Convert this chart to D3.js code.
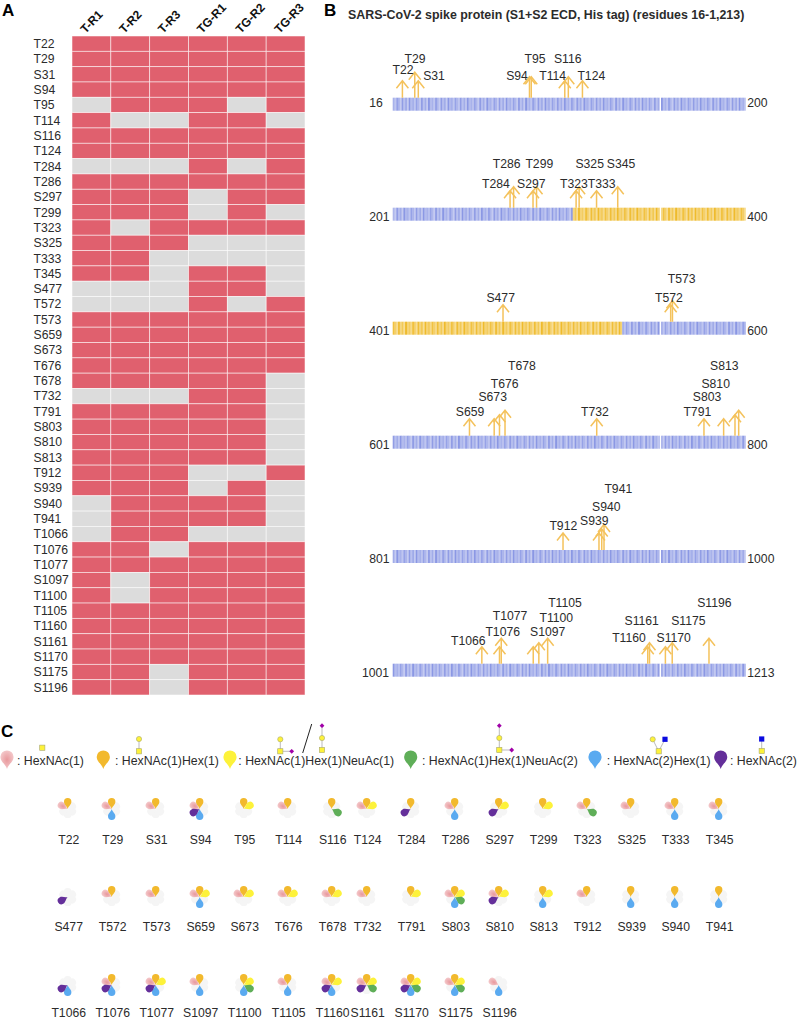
<!DOCTYPE html>
<html>
<head>
<meta charset="utf-8">
<script src="https://cdn.jsdelivr.net/npm/d3@7"></script>
<style>
	html, body { margin: 0; padding: 0; background: #fff; }
	svg { display: block; }
	text { font-family: "Liberation Sans", Arial, sans-serif; fill: #2b2b2b; }
</style>
</head>
<body>
<div id="chart"></div>
<script>
// panel A
var samples = ["T-R1", "T-R2", "T-R3", "TG-R1", "TG-R2", "TG-R3"];
var heatSites = ["T22", "T29", "S31", "S94", "T95", "T114", "S116", "T124", "T284", "T286", "S297", "T299", "T323", "S325", "T333", "T345", "S477", "T572", "T573", "S659", "S673", "T676", "T678", "T732", "T791", "S803", "S810", "S813", "T912", "S939", "S940", "T941", "T1066", "T1076", "T1077", "S1097", "T1100", "T1105", "T1160", "S1161", "S1170", "S1175", "S1196"];
var detected = ["111111", "111111", "111111", "111111", "011101", "100110", "111111", "111111", "000101", "111111", "111011", "111010", "101111", "111000", "110000", "110110", "000110", "000101", "111111", "111111", "111111", "111111", "111110", "000110", "111110", "111110", "111110", "111110", "111001", "111010", "011110", "011110", "011000", "110111", "111111", "101111", "101111", "111111", "111111", "111111", "111111", "110111", "110111"];

// panel B
var trackLeftLabels = ["16", "201", "401", "601", "801", "1001"];
var trackRightLabels = ["200", "400", "600", "800", "1000", "1213"];
var trackStarts = [17, 218, 415, 616, 816, 1016];
var rbdStart = 320, rbdEnd = 544;
var gapSlot = 151;
var proteinSites = ["T22", "T29", "S31", "S94", "T95", "T114", "S116", "T124", "T284", "T286", "S297", "T299", "T323", "S325", "T333", "S345", "S477", "T572", "T573", "S659", "S673", "T676", "T678", "T732", "T791", "S803", "S810", "S813", "T912", "S939", "S940", "T941", "T1066", "T1076", "T1077", "S1097", "T1100", "T1105", "T1160", "S1161", "S1170", "S1175", "S1196"];

// panel C
var glycanNames = ["HexNAc(1)", "HexNAc(1)Hex(1)", "HexNAc(1)Hex(1)NeuAc(1)", "HexNAc(1)Hex(1)NeuAc(2)", "HexNAc(2)Hex(1)", "HexNAc(2)"];
var glycanKeys = ["P", "O", "Y", "G", "B", "U"];
var flowerSites = ["T22", "T29", "S31", "S94", "T95", "T114", "S116", "T124", "T284", "T286", "S297", "T299", "T323", "S325", "T333", "T345", "S477", "T572", "T573", "S659", "S673", "T676", "T678", "T732", "T791", "S803", "S810", "S813", "T912", "S939", "S940", "T941", "T1066", "T1076", "T1077", "S1097", "T1100", "T1105", "T1160", "S1161", "S1170", "S1175", "S1196"];
var flowerGlycans = ["PO", "POB", "PO", "POBU", "OY", "PO", "OG", "POY", "OU", "POB", "OYU", "OY", "POG", "PO", "POB", "POB", "U", "PO", "PO", "POYB", "POY", "POY", "POY", "PO", "OY", "POYGB", "POYU", "OYB", "PO", "OB", "OB", "OB", "BU", "POBU", "POYBU", "POB", "OYGB", "POB", "POYBU", "POYGU", "POYGBU", "POYGB", "PB"];

// layout of the hand placed annotations in panel B: arrow tier, label centre x, label centre y, arrow nudge
var arrowTiers = [17, 21, 25.5];
var sitePlacement = {
	T22: [0, 403, 70], T29: [2, 415, 58.7], S31: [0, 434, 76], S94: [1, 517, 76], T95: [1, 535, 58.7], T114: [0, 552.7, 76], S116: [1, 567.7, 58.7], T124: [0, 591.3, 76],
	T284: [0, 496, 183.7], T286: [1, 506.7, 163.7], S297: [0, 531.3, 183.7], T299: [1, 539.3, 163.7], T323: [0, 574, 183.7, -2.8], S325: [1, 589.7, 163.7, -3.3], T333: [0, 601.7, 183.7], S345: [1, 621, 163.7],
	S477: [0, 500.7, 297.3], T572: [0, 669, 297.3], T573: [1, 681.7, 278.3],
	S659: [0, 470, 412], S673: [0, 492.7, 396.7], T676: [1, 504.7, 383.3], T678: [2, 522, 366, 2], T732: [0, 595, 412, -1.6], T791: [0, 697.3, 412, 1.5], S803: [0, 707, 396.7], S810: [1, 715.7, 383.3, -1], S813: [2, 724.3, 366, -2.6],
	T912: [0, 563.3, 525.7], S939: [0, 594.3, 521, -11.7], S940: [1, 606.3, 506.7, -10.7], T941: [2, 618.3, 489, -10.2],
	T1066: [0, 468.3, 640.3], T1076: [0, 502.7, 631.7], T1077: [2, 510, 616], S1097: [0, 547.7, 631.7, -3.3], T1100: [1, 556.3, 617.3, -3], T1105: [2, 565, 602.7, -3], T1160: [0, 629, 638], S1161: [1, 641.7, 620.7], S1170: [0, 673.7, 638], S1175: [1, 688.3, 620.7, -2], S1196: [2, 714.3, 602.7, -2.3]
};

var width = 797, height = 1020;
var svg = d3.select("#chart").append("svg").attr("width", width).attr("height", height);
var defs = svg.append("defs");

var pink = defs.append("radialGradient").attr("id", "pinkPetal");
pink.append("stop").attr("offset", "0%").attr("stop-color", "#e8989c");
pink.append("stop").attr("offset", "100%").attr("stop-color", "#f3c6c8");

var glycanColor = d3.scaleOrdinal()
	.domain(glycanKeys)
	.range(["url(#pinkPetal)", "#f2b92d", "#fdf23a", "#5fae58", "#5aaaf0", "#642f9a"]);
var petalAngle = d3.scaleOrdinal()
	.domain(glycanKeys)
	.range([-60, 0, 60, 120, 180, 240]);

function teardrop(r, len) {
	return "M0,0C" + (-r * .2) + "," + (-len * .4) + " " + (-r) + "," + (-len * .6) + " " + (-r) + "," + (-len)
		+ "A" + r + "," + r + " 0 1 1 " + r + "," + (-len)
		+ "C" + r + "," + (-len * .6) + " " + (r * .2) + "," + (-len * .4) + " 0,0Z";
}

function panelLetter(label, x, y) {
	svg.append("text").attr("x", x).attr("y", y)
		.style("font-size", "17px").style("font-weight", "bold").style("fill", "#000")
		.text(label);
}
panelLetter("A", 2, 16);
panelLetter("B", 324, 16);
panelLetter("C", 1, 737);

// ---- A: heat map ----
var heatX = d3.scaleBand().domain(samples).range([72, 305]);
var heatY = d3.scaleBand().domain(heatSites).range([36, 695]);

var heat = svg.append("g").attr("class", "heat");
heatSites.forEach(function(site, i) {
	samples.forEach(function(sample, j) {
		heat.append("rect")
			.attr("x", heatX(sample))
			.attr("y", heatY(site))
			.attr("width", heatX.bandwidth())
			.attr("height", heatY.bandwidth())
			.attr("fill", detected[i][j] === "1" ? "#e0606e" : "#dcdcdc")
			.attr("stroke", "#fff")
			.attr("stroke-opacity", .65)
			.attr("stroke-width", .8);
	});
	heat.append("text")
		.attr("x", 33.5)
		.attr("y", heatY(site) + heatY.bandwidth() / 2 + 4.3)
		.style("font-size", "12.2px")
		.text(site);
});
samples.forEach(function(sample) {
	var x = heatX(sample) + heatX.bandwidth() / 2 - 6;
	heat.append("text")
		.attr("transform", "translate(" + x + ",34) rotate(-46)")
		.style("font-size", "12px")
		.style("font-weight", "bold")
		.style("fill", "#111")
		.text(sample);
});

// ---- B: protein tracks ----
svg.append("text")
	.attr("x", 348).attr("y", 19)
	.style("font-size", "12.4px").style("font-weight", "bold")
	.text("SARS-CoV-2 spike protein (S1+S2 ECD, His tag) (residues 16-1,213)");

var trackY = d3.scaleOrdinal().domain(trackStarts).range([97.7, 207.7, 321.7, 435.7, 550, 663.7]);
var slots = d3.range(200);
var slotX = d3.scaleBand().domain(slots).range([392.7, 745.7]);
var stripeOpacity = [.95, .6, .8, .5, 1, .65, .75, .55, .9, .7, .5];
var trackHeight = 13;

var tracks = svg.append("g").attr("class", "tracks");
trackStarts.forEach(function(start, t) {
	var top = trackY(start);
	slots.forEach(function(slot) {
		var residue = start + slot;
		tracks.append("rect")
			.attr("x", slotX(slot))
			.attr("y", top)
			.attr("width", slot === gapSlot ? slotX.bandwidth() * .3 : slotX.bandwidth() + .15)
			.attr("height", trackHeight)
			.attr("fill", residue >= rbdStart && residue <= rbdEnd ? "#efbb2c" : "#8b98e4")
			.attr("opacity", stripeOpacity[residue % stripeOpacity.length]);
	});
	var labelY = t === 0 ? 107.2 : top + trackHeight + .3;
	tracks.append("text")
		.attr("x", trackLeftLabels[t].length > 3 ? 362 : 369.2)
		.attr("y", labelY)
		.style("font-size", "12.2px")
		.text(trackLeftLabels[t]);
	tracks.append("text")
		.attr("x", 747.3)
		.attr("y", labelY)
		.style("font-size", "12.2px")
		.text(trackRightLabels[t]);
});

function startOf(residue) {
	return trackStarts.filter(function(s) { return s <= residue + 1; }).pop();
}

var arrows = svg.append("g").attr("class", "arrows")
	.attr("fill", "none")
	.attr("stroke", "#f4c25c")
	.attr("stroke-width", 1.5);
proteinSites.forEach(function(site) {
	var residue = +site.slice(1);
	var start = startOf(residue);
	var place = sitePlacement[site];
	var x = slotX(residue - start) + slotX.bandwidth() / 2 + (place[3] || 0);
	var base = trackY(start);
	var tip = base - arrowTiers[place[0]];
	arrows.append("path")
		.attr("d", "M" + x + "," + base + "V" + tip + "M" + (x - 6) + "," + (tip + 7.5) + "L" + x + "," + tip + "L" + (x + 6) + "," + (tip + 7.5));
	svg.append("text")
		.attr("x", place[1])
		.attr("y", place[2] + 4.3)
		.attr("text-anchor", "middle")
		.style("font-size", "12.2px")
		.text(site);
});

// ---- C: legend ----
var legend = svg.append("g").attr("class", "legend");
var legendPinX = d3.scaleOrdinal().domain(glycanKeys).range([7, 103.3, 230, 410.7, 595, 720.7]);
var legendTextX = d3.scaleOrdinal().domain(glycanKeys).range([17, 115, 238.3, 422, 606.7, 730]);
glycanKeys.forEach(function(key, i) {
	legend.append("path")
		.attr("transform", "translate(" + legendPinX(key) + ",769)")
		.attr("d", teardrop(6.6, 12))
		.attr("fill", glycanColor(key));
	legend.append("text")
		.attr("x", legendTextX(key))
		.attr("y", 765)
		.attr("xml:space", "preserve")
		.style("font-size", "12.3px")
		.text(": " + glycanNames[i]);
});

// little glycan cartoons above the legend
function link(x1, y1, x2, y2) {
	legend.append("line").attr("x1", x1).attr("y1", y1).attr("x2", x2).attr("y2", y2).attr("stroke", "#aaa").attr("stroke-width", .8);
}
function square(x, y, fill) {
	legend.append("rect").attr("x", x - 2.6).attr("y", y - 2.6).attr("width", 5.2).attr("height", 5.2)
		.attr("fill", fill || "#fdf23a").attr("stroke", fill ? "none" : "#a8a870").attr("stroke-width", .6);
}
function circle(x, y) {
	legend.append("circle").attr("cx", x).attr("cy", y).attr("r", 2.6).attr("fill", "#fdf23a").attr("stroke", "#a8a870").attr("stroke-width", .6);
}
function diamond(x, y) {
	legend.append("path").attr("d", "M" + x + "," + (y - 2.4) + "L" + (x + 2.4) + "," + y + "L" + x + "," + (y + 2.4) + "L" + (x - 2.4) + "," + y + "Z").attr("fill", "#a000a8");
}
square(42.3, 747.7);
link(139, 751.3, 139, 739); square(139, 751.3); circle(139, 739);
link(280.3, 751.3, 280.3, 739.3); link(280.3, 751.3, 291.7, 751.3); square(280.3, 751.3); circle(280.3, 739.3); diamond(291.7, 751.3);
legend.append("line").attr("x1", 311.7).attr("y1", 724).attr("x2", 302.7).attr("y2", 753).attr("stroke", "#222").attr("stroke-width", 1);
link(322, 750, 322, 725.7); square(322, 750); circle(322, 738); diamond(322, 725.7);
link(499.3, 750, 499.3, 725.7); link(499.3, 750, 511.7, 750); square(499.3, 750); circle(499.3, 738); diamond(499.3, 725.7); diamond(511.7, 750);
link(658.7, 751.3, 652.7, 739.3); link(658.7, 751.3, 665, 739.3); square(658.7, 751.3); circle(652.7, 739.3); square(665, 739.3, "#0a0ae0");
link(761.7, 751, 761.7, 739); square(761.7, 751); square(761.7, 739, "#0a0ae0");

// ---- C: flowers ----
var flowers = svg.append("g").attr("class", "flowers");
var flowerCols = d3.range(16);
var flowerX = d3.scaleOrdinal().domain(flowerCols).range(flowerCols.map(function(c) { return 67.7 + 44 * c - (c >= 7 ? 9 : 0); }));
var flowerY = d3.scalePoint().domain([0, 1, 2]).range([809, 985]);
var labelY = d3.scalePoint().domain([0, 1, 2]).range([844, 1017.3]);

flowerSites.forEach(function(site, i) {
	var col = i % 16, row = Math.floor(i / 16);
	var cell = flowers.append("g")
		.attr("transform", "translate(" + flowerX(col) + "," + flowerY(row) + ")");
	glycanKeys.forEach(function(key) {
		cell.append("path")
			.attr("transform", "rotate(" + petalAngle(key) + ")")
			.attr("d", teardrop(3.9, 5.2))
			.attr("fill", "#f5f5f5");
	});
	flowerGlycans[i].split("").forEach(function(key) {
		cell.append("path")
			.attr("transform", "rotate(" + petalAngle(key) + ")")
			.attr("d", teardrop(3.7, 7.3))
			.attr("fill", glycanColor(key));
	});
	flowers.append("text")
		.attr("x", flowerX(col) + 1)
		.attr("y", labelY(row))
		.attr("text-anchor", "middle")
		.style("font-size", "12.2px")
		.text(site);
});
</script>
</body>
</html>
